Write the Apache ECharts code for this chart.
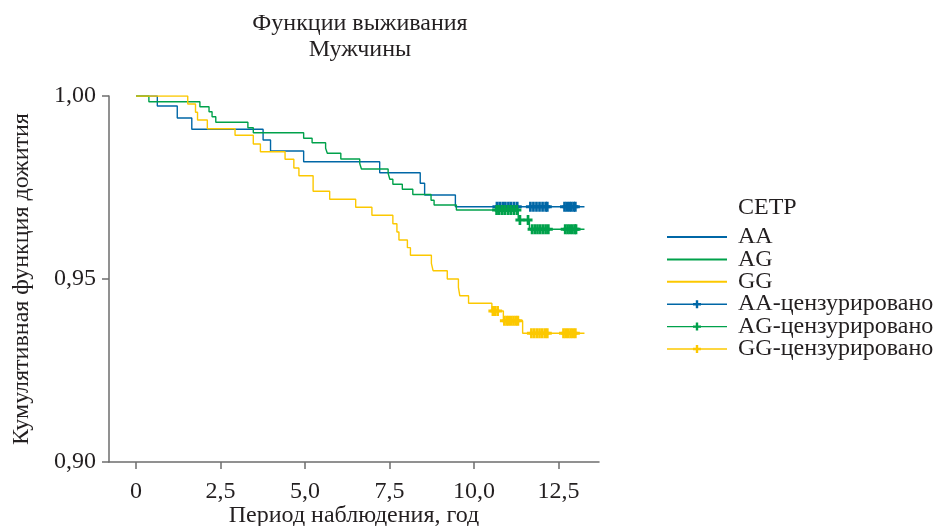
<!DOCTYPE html>
<html>
<head>
<meta charset="utf-8">
<script src="https://cdn.jsdelivr.net/npm/echarts@6/dist/echarts.min.js"></script>
<style>
html,body{margin:0;padding:0;background:#fff;}
#chart{width:935px;height:526px;}
</style>
</head>
<body>
<div id="chart"></div>
<script>
// ---- Data ----
const xTicks = [0, 2.5, 5, 7.5, 10, 12.5];

const aaTime = [0, 0.63, 1.22, 1.65, 3.76, 3.98, 4.96, 7.21, 8.41, 8.54, 9.45, 13.27];
const aaSurv = [1, 0.99727, 0.99399, 0.99090, 0.98798, 0.98497, 0.98205, 0.97904, 0.97615, 0.97295, 0.96975, 0.96975];

const agTime = [0, 0.38, 1.89, 2.16, 2.25, 2.36, 3.31, 3.47, 4.96, 5.21, 5.61, 5.66, 6.06, 6.62, 6.67, 7.46, 7.51, 7.60, 7.88, 8.19, 8.73, 8.82, 9.48, 11.31, 11.64, 13.27];
const agSurv = [1, 0.99844, 0.99708, 0.99571, 0.99434, 0.99281, 0.99134, 0.98997, 0.98844, 0.98724, 0.98571, 0.98434, 0.98279, 0.98156, 0.98006, 0.97888, 0.97724, 0.97587, 0.97451, 0.97309, 0.97150, 0.97022, 0.96885, 0.96612, 0.96358, 0.96358];

const ggTime = [0, 1.53, 1.76, 1.82, 2.11, 2.93, 3.47, 3.68, 4.41, 4.67, 4.82, 5.24, 5.73, 6.50, 6.98, 7.60, 7.72, 7.78, 8.03, 8.12, 8.74, 8.79, 9.21, 9.54, 9.58, 9.84, 10.53, 10.87, 11.44, 13.27];
const ggSurv = [1, 0.99781, 0.99555, 0.99344, 0.99107, 0.98926, 0.98689, 0.98478, 0.98271, 0.98033, 0.97823, 0.97396, 0.97178, 0.96959, 0.96741, 0.96511, 0.96284, 0.96066, 0.95856, 0.95648, 0.95429, 0.95227, 0.95000, 0.94774, 0.94544, 0.94337, 0.94126, 0.93861, 0.93517, 0.93517];

// censored observations
const aaCensTime = [10.68, 10.76, 10.85, 10.93, 11.02, 11.10, 11.19, 11.28, 11.67, 11.76, 11.85, 11.94, 12.03, 12.12, 12.17, 12.68, 12.75, 12.82, 12.88, 12.95, 13.00];
const aaCensSurv = [0.96975, 0.96975, 0.96975, 0.96975, 0.96975, 0.96975, 0.96975, 0.96975, 0.96975, 0.96975, 0.96975, 0.96975, 0.96975, 0.96975, 0.96975, 0.96975, 0.96975, 0.96975, 0.96975, 0.96975, 0.96975];

const agCensTime = [10.67, 10.75, 10.84, 10.92, 11.01, 11.09, 11.18, 11.27, 11.36, 11.60, 11.72, 11.80, 11.88, 11.96, 12.04, 12.12, 12.20, 12.70, 12.77, 12.84, 12.91, 12.98, 13.02];
const agCensSurv = [0.96885, 0.96885, 0.96885, 0.96885, 0.96885, 0.96885, 0.96885, 0.96885, 0.96612, 0.96612, 0.96358, 0.96358, 0.96358, 0.96358, 0.96358, 0.96358, 0.96358, 0.96358, 0.96358, 0.96358, 0.96358, 0.96358, 0.96358];

const ggCensTime = [10.56, 10.62, 10.70, 10.90, 10.97, 11.03, 11.10, 11.17, 11.24, 11.30, 11.70, 11.78, 11.86, 11.94, 12.02, 12.10, 12.17, 12.65, 12.72, 12.79, 12.86, 12.93, 13.00];
const ggCensSurv = [0.94126, 0.94126, 0.94126, 0.93861, 0.93861, 0.93861, 0.93861, 0.93861, 0.93861, 0.93861, 0.93517, 0.93517, 0.93517, 0.93517, 0.93517, 0.93517, 0.93517, 0.93517, 0.93517, 0.93517, 0.93517, 0.93517, 0.93517];

const groupNames = ['AA', 'AG', 'GG'];
const censNames = ['AA-цензурировано', 'AG-цензурировано', 'GG-цензурировано'];
const colors = ['#0067a6', '#00a14b', '#fcc800'];

// ---- Chart ----
const pair = (xs, ys) => xs.map((x, i) => [x, ys[i]]);
const FONT = 'Liberation Serif';
const TXT = '#231f20';
const FS = 24;
const CROSS = 'path://M3.5,0h3v3.5h3.5v3h-3.5v3.5h-3v-3.5h-3.5v-3h3.5z';

const curves = [pair(aaTime, aaSurv), pair(agTime, agSurv), pair(ggTime, ggSurv)];
const cens = [pair(aaCensTime, aaCensSurv), pair(agCensTime, agCensSurv), pair(ggCensTime, ggCensSurv)];

const series = [];
curves.forEach((d, i) => {
  series.push({
    name: groupNames[i], type: 'line', step: 'end', data: d,
    symbol: 'none', showSymbol: false,
    lineStyle: { color: colors[i], width: 1.4 },
    itemStyle: { color: colors[i] },
    z: 2
  });
});
cens.forEach((d, i) => {
  series.push({
    name: censNames[i], type: 'line', data: d,
    symbol: CROSS, symbolSize: [9, 10], showSymbol: true, showAllSymbol: true,
    lineStyle: { color: colors[i], width: 1.4, opacity: 0 },
    itemStyle: { color: colors[i] },
    z: 3
  });
});

const fmtComma = (v, d) => v.toFixed(d).replace('.', ',');

const option = {
  animation: false,
  backgroundColor: '#ffffff',
  textStyle: { fontFamily: FONT, color: TXT },
  title: [
    {
      text: 'Функции выживания\nМужчины',
      left: 355, top: 6, textAlign: 'center',
      textStyle: { fontFamily: FONT, fontSize: FS, fontWeight: 'normal', color: TXT, lineHeight: 26 }
    },
    {
      text: 'CETP',
      left: 733, top: 191,
      textStyle: { fontFamily: FONT, fontSize: FS, fontWeight: 'normal', color: TXT }
    }
  ],
  legend: {
    orient: 'vertical', left: 666, top: 225, padding: 0,
    itemWidth: 60, itemHeight: 10, itemGap: -1.6,
    selectedMode: false,
    textStyle: { fontFamily: FONT, fontSize: FS, color: TXT, padding: [0, 0, 0, 6] },
    data: [
      { name: groupNames[0], itemStyle: { opacity: 0 } },
      { name: groupNames[1], itemStyle: { opacity: 0 } },
      { name: groupNames[2], itemStyle: { opacity: 0 } },
      { name: censNames[0], lineStyle: { opacity: 1, width: 1.4, color: colors[0] } },
      { name: censNames[1], lineStyle: { opacity: 1, width: 1.4, color: colors[1] } },
      { name: censNames[2], lineStyle: { opacity: 1, width: 1.4, color: colors[2] } }
    ]
  },
  grid: { left: 109, right: 336, top: 96, bottom: 64, containLabel: false, outerBoundsMode: 'none' },
  xAxis: {
    type: 'value', min: -0.8, max: 13.7,
    name: 'Период наблюдения, год', nameLocation: 'middle', nameGap: 42, nameMoveOverlap: false,
    nameTextStyle: { fontFamily: FONT, fontSize: FS, color: TXT },
    axisLine: { onZero: false, lineStyle: { color: '#6d6d6d', width: 1.5 } },
    axisTick: { show: true, length: 7, customValues: xTicks, lineStyle: { color: '#6d6d6d', width: 1.5 } },
    axisLabel: { customValues: xTicks, margin: 18, fontFamily: FONT, fontSize: FS, color: TXT,
      formatter: v => v === 0 ? '0' : fmtComma(v, 1) },
    splitLine: { show: false }
  },
  yAxis: {
    type: 'value', min: 0.9, max: 1.0, interval: 0.05,
    name: 'Кумулятивная функция дожития', nameLocation: 'middle', nameGap: 75, nameRotate: 90, nameMoveOverlap: false,
    nameTextStyle: { fontFamily: FONT, fontSize: FS, color: TXT },
    axisLine: { show: true, onZero: false, lineStyle: { color: '#6d6d6d', width: 1.5 } },
    axisTick: { show: true, length: 7, lineStyle: { color: '#6d6d6d', width: 1.5 } },
    axisLabel: { margin: 13, fontFamily: FONT, fontSize: FS, color: TXT,
      formatter: v => fmtComma(v, 2) },
    splitLine: { show: false }
  },
  series: series
};

const chart = echarts.init(document.getElementById('chart'), null, { renderer: 'canvas' });
chart.setOption(option);
</script>
</body>
</html>
